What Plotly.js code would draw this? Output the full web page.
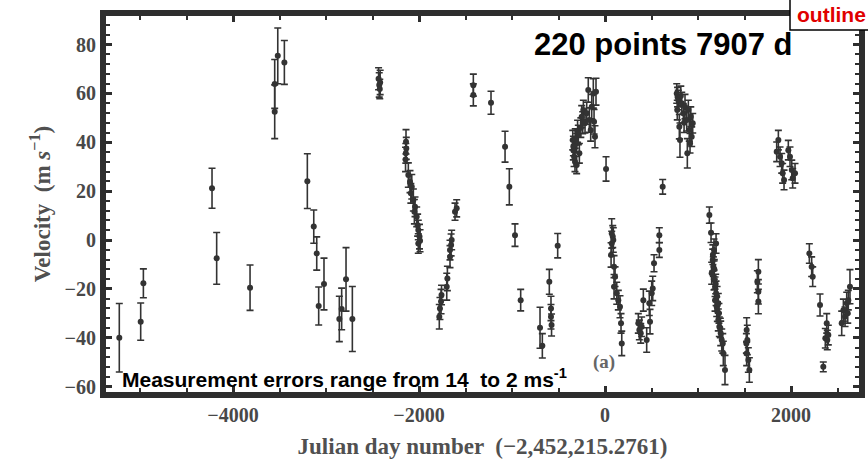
<!DOCTYPE html>
<html>
<head>
<meta charset="utf-8">
<script src="https://cdn.plot.ly/plotly-3.0.1.min.js"></script>
<style>html,body{margin:0;padding:0;background:#fff;}#chart{width:868px;height:467px;}</style>
</head>
<body>
<div id="chart"></div>
<script>
// Julian day (offset), velocity (m/s), error (m/s)
const jd = [
 -5223,-4993,-4964,-4226,-4176,-3817,-3552,-3552,-3519,-3448,-3201,-3132,-3100,-3079,-3022,-2857,-2832,-2785,-2717,
 -2435,-2428,-2422,-2418,
 -2140,-2137,-2142,-2145,-2115,-2097,-2078,-2088,-2061,-2043,-2050,-2025,-2015,-2008,-1995,-2008,-1989,
 -1782,-1775,-1763,-1758,-1702,-1695,-1667,-1667,-1655,-1649,-1613,-1595,
 -1416,-1416,-1226,-1075,-1029,-968,-907,-699,-674,-599,-581,-581,-575,-509,
 -347,-341,-333,-323,-305,-305,-287,-276,-251,-233,-215,-197,-180,-169,-154,-143,-126,-118,-108,-97,-340,-320,-295,-260,-240,
 11,
 65,72,83,89,72,97,108,97,126,143,161,172,180,
 358,369,384,394,412,448,476,484,502,513,527,584,584,620,
 771,788,777,799,806,825,842,860,878,885,896,906,914,922,932,943,780,815,850,
 1122,1140,1158,1165,1147,1172,1183,1194,1183,1201,1208,1218,1229,1244,1255,1266,1272,1290,1194,1172,1218,1160,1175,1190,1205,1225,1240,
 1523,1530,1520,1541,1552,1523,
 1649,1638,1649,1649,
 1864,1846,1882,1900,1910,1925,1971,1989,2008,2018,2043,
 2197,2222,2233,2312,2384,2369,2390,2401,2347,2563,2581,2599,2616,2634,2610,2545
];
const vel = [
 -40,-33.4,-17.7,21.2,-7.5,-19.5,52.5,63.9,75.4,72.7,24.1,5.5,-5.5,-27,-18,-32.3,-28.2,-16.1,-32.3,
 66,63.5,61.8,64.5,
 40.2,37.5,35.5,33,26.6,23.9,21.8,19.1,16.4,13.6,11.6,9.5,6.1,4.1,1.4,-1.4,-0.3,
 -31.4,-28,-25.2,-22.5,-19.1,-15.7,-6.8,-4.1,-2,0,11.6,13,
 63.4,59.4,56.2,38.2,21.8,2,-24.6,-35.9,-43.3,-17.1,-28,-31.4,-34.8,-2.3,
 40.9,36.8,34.1,32,30.7,39.6,43,35.5,50.5,53.2,47.8,51.9,61.4,49.1,45,54.6,60,48.4,42.3,60.7,38.5,41.5,44.5,46,48,
 29.1,
 -6.1,-1.4,1.4,0,2.7,-10.9,-15,-19.1,-21.8,-24.6,-27.3,-34.1,-42.3,
 -34.1,-36.8,-38.2,-35.5,-24.6,-40.9,-25.9,-33.4,-21.8,-19.8,-9.5,2,-4.1,21.8,
 60,57.3,53.2,46.4,40.9,56,51.9,54.6,49.1,35.5,53.2,45,39.6,50.5,42.3,47.8,58.5,59,48,
 10.2,3,-8.2,-10.9,-13.6,-16.4,-19.1,-21.8,-24.6,-27.3,-29.3,-32.7,-35.5,-38.2,-40.9,-42.3,-46.4,-53.2,-1.4,-4.1,-25.9,-6,-12,-18,-23,-30,-36,
 -36.8,-40.9,-42.3,-49.1,-53.2,-46.4,
 -13,-17.1,-21.2,-25.2,
 40.9,36.1,34.1,31.4,27.3,24.6,36.8,34.1,28.7,25.3,27.3,
 -5.5,-10.9,-15,-26.6,-34.1,-40.2,-40.9,-38.9,-51.9,-28.7,-31.4,-25.9,-24.6,-19.1,-30,-34.1
];
const err = [
 14,7.6,5.9,8.2,10.6,9.3,11,10,11.4,9,11.2,6.8,6.8,7.8,10.6,9.3,8.5,13,13.3,
 4.5,5,4,5,
 5,4.5,4,5,5,4.5,5,4,4.5,4,5,4,4.5,4,5,4,4.5,
 5,4.5,5,4,5.5,5,4.5,4,4.5,4,3.5,3.5,
 4.5,4.5,4.7,6.3,7.4,4.6,4.4,8.4,5,5.1,5,5,4.5,5,
 4,4,4,4,3.5,4,4,4,4.5,4,4,4.5,5,5,4.5,5,6,5,4.5,5.5,4,4,4.5,4,4.5,
 5,
 5,5,4.5,5,6,4.5,4,5,4.5,4,4.5,4,5,
 4,4,4,4,4.5,5,5,5,5,5,3.5,3,3,3,
 4,4,4,5,7,4.5,4,5,4.5,6,4,4.5,4,4,4,4,4,4,4,
 3.3,4,4.5,4,4.5,4,4,5,4.5,4,4,4.5,4,5,4.5,4,5,6,4,4.5,4,4,4,4,4,4,4,
 5,6,4,5,5,5,
 5,4.5,5,5,
 4,4,4,4,4,4,4,4,4,4,4,
 4,4,4,4.5,4,4,4,4,2,4.5,4,4.5,4,7,4,5
];
const xTickVals = [-4000,-2000,0,2000];
const xTickText = ['\u22124000','\u22122000','0','2000'];
const yTickVals = [-60,-40,-20,0,20,40,60,80];
const yTickText = ['\u221260','\u221240','\u221220','0','20','40','60','80'];

const frame = '#2e2e2e';
const tickFont = {family:'Liberation Serif, Times New Roman, serif', size:20, color:'#484848', weight:'bold'};
const titleFont = {family:'Liberation Serif, Times New Roman, serif', size:23, color:'#505050', weight:'bold'};

const trace = {
  x: jd, y: vel, type:'scatter', mode:'markers',
  marker:{color:'#333', size:6},
  error_y:{type:'data', array: err, visible:true, color:'#333', thickness:1.6, width:3.5},
  hoverinfo:'skip'
};

const L = 106, R = 859, T = 16, B = 392;
function px(x){return (x-L)/(R-L);}
function py(y){return (B-y)/(B-T);}

const layout = {
  width:868, height:467,
  margin:{l:L, r:868-R, t:T, b:467-B},
  paper_bgcolor:'#fff', plot_bgcolor:'#fff',
  showlegend:false,
  xaxis:{
    range:[-5366,2731], tickvals:xTickVals, ticktext:xTickText,
    showgrid:false, zeroline:false,
    showline:true, linewidth:6, linecolor:frame, mirror:'allticks',
    ticks:'inside', ticklen:6, tickwidth:3, tickcolor:frame,
    minor:{dtick:500, tick0:0, ticks:'inside', ticklen:4, tickwidth:2, tickcolor:frame, showgrid:false},
    tickfont:tickFont,
    title:{text:'Julian day number  (\u22122,452,215.2761)', font:titleFont, standoff:15}
  },
  yaxis:{
    range:[-62.2,91.7], tickvals:yTickVals, ticktext:yTickText,
    showgrid:false, zeroline:false,
    showline:true, linewidth:6, linecolor:frame, mirror:'allticks',
    ticks:'inside', ticklen:6, tickwidth:3, tickcolor:frame,
    minor:{dtick:4, tick0:0, ticks:'inside', ticklen:4, tickwidth:2, tickcolor:frame, showgrid:false},
    tickfont:tickFont,
    title:{text:'Velocity  (m <i>s</i><sup>\u22121</sup>)', font:titleFont, standoff:10}
  },
  shapes:[
    {type:'rect', xref:'paper', yref:'paper', x0:px(790), x1:px(880), y0:py(30), y1:py(-5),
     fillcolor:'#fff', line:{color:'#000', width:1.5}, layer:'above'}
  ],
  annotations:[
    {xref:'paper', yref:'paper', x:px(794), y:py(44), xanchor:'right', yanchor:'middle', showarrow:false,
     text:'220 points 7907 d', font:{family:'Liberation Sans, Arial, sans-serif', size:31, color:'#000', weight:'bold'}},
    {xref:'paper', yref:'paper', x:px(795), y:py(14), xanchor:'left', yanchor:'middle', showarrow:false,
     text:'outline', font:{family:'Liberation Sans, Arial, sans-serif', size:21, color:'#e00000', weight:'bold'}},
    {xref:'paper', yref:'paper', x:px(120), y:py(378), xanchor:'left', yanchor:'middle', showarrow:false,
     text:'Measurement errors range from 14  to 2 ms<sup>-1</sup>', font:{family:'Liberation Sans, Arial, sans-serif', size:21, color:'#000', weight:'bold'}},
    {xref:'paper', yref:'paper', x:px(604), y:py(362), xanchor:'center', yanchor:'middle', showarrow:false,
     text:'(a)', font:{family:'Liberation Serif, Times New Roman, serif', size:19, color:'#666', weight:'bold'}}
  ]
};

Plotly.newPlot('chart', [trace], layout, {displayModeBar:false, staticPlot:true});
</script>
</body>
</html>
